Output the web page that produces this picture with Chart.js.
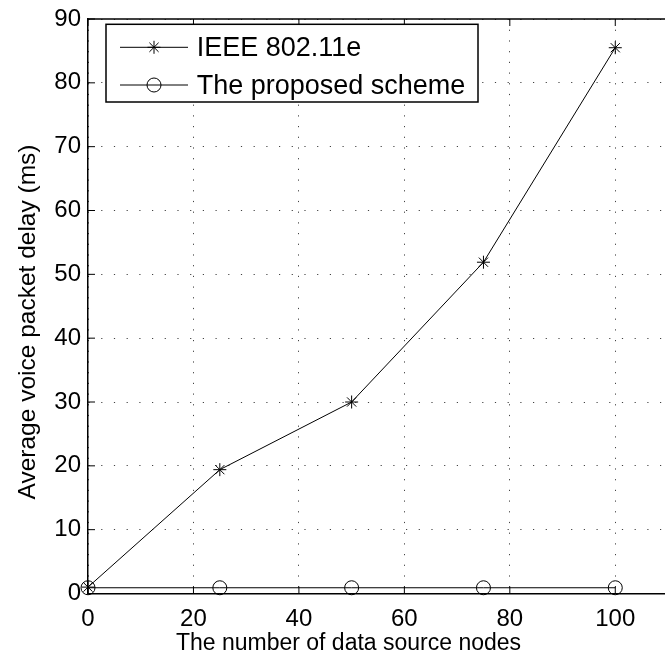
<!DOCTYPE html>
<html>
<head>
<meta charset="utf-8">
<script src="https://cdn.jsdelivr.net/npm/chart.js@4.4.1/dist/chart.umd.min.js"></script>
<style>
  html, body { margin: 0; padding: 0; background: #fff; overflow: hidden; }
  #wrap { width: 676px; height: 665px; }
</style>
</head>
<body>
<div id="wrap"><canvas id="c" width="676" height="665"></canvas></div>
<script>
// Voice packet delay versus number of data source nodes
const nodeCounts = [0, 25, 50, 75, 100];
const ieeeDelay = [1.0, 19.4, 30.0, 51.9, 85.5];
const proposedDelay = [0.9, 0.9, 0.9, 0.9, 0.9];
const xTickValues = [0, 20, 40, 60, 80, 100];
const yTickValues = [0, 10, 20, 30, 40, 50, 60, 70, 80, 90];
const seriesNames = ['IEEE 802.11e', 'The proposed scheme'];
const xTitle = 'The number of data source nodes';
const yTitle = 'Average voice packet delay (ms)';

const FONT = '"Liberation Sans", Arial, Helvetica, sans-serif';
Chart.defaults.font.family = FONT;
Chart.defaults.color = '#000';

const toPoints = (xs, ys) => xs.map((v, i) => ({ x: v, y: ys[i] }));

// inner tick marks, top edge, legend box and axis titles
const framePlugin = {
  id: 'frame',
  afterDraw(chart) {
    const { ctx, chartArea: a, scales: { x, y } } = chart;
    const seg = (x1, y1, x2, y2) => { ctx.beginPath(); ctx.moveTo(x1, y1); ctx.lineTo(x2, y2); ctx.stroke(); };
    ctx.save();
    ctx.strokeStyle = '#000';
    ctx.lineWidth = 1.5;
    seg(a.left, a.top, a.right, a.top);

    ctx.lineWidth = 1;
    const tl = 7;
    x.ticks.forEach(t => {
      const px = x.getPixelForValue(t.value);
      seg(px, a.bottom, px, a.bottom - tl);
      seg(px, a.top, px, a.top + tl);
    });
    y.ticks.forEach(t => {
      const py = y.getPixelForValue(t.value);
      seg(a.left, py, a.left + tl, py);
    });

    // legend
    const bx = 106, by = 24.3, bw = 372, bh = 77.7;
    ctx.fillStyle = '#fff';
    ctx.fillRect(bx, by, bw, bh);
    ctx.lineWidth = 1.5;
    ctx.strokeRect(bx, by, bw, bh);
    const rows = [47.3, 85];
    chart.data.datasets.forEach((ds, i) => {
      const ry = rows[i];
      ctx.lineWidth = 1;
      ctx.strokeStyle = '#000';
      seg(120, ry, 188, ry);
      ctx.fillStyle = 'rgba(0,0,0,0)';
      Chart.helpers.drawPoint(ctx, {
        pointStyle: ds.pointStyle, radius: ds.pointRadius, rotation: 0, borderWidth: 1
      }, 154, ry);
      ctx.fillStyle = '#000';
      ctx.font = '27px ' + FONT;
      ctx.textAlign = 'left';
      ctx.textBaseline = 'alphabetic';
      ctx.fillText(ds.label, 196.7, ry + 9);
    });

    // axis titles
    ctx.fillStyle = '#000';
    ctx.textAlign = 'center';
    ctx.textBaseline = 'alphabetic';
    ctx.font = '23px ' + FONT;
    ctx.fillText(xTitle, 348.5, 650);
    ctx.font = '24.5px ' + FONT;
    ctx.translate(35, 322);
    ctx.rotate(-Math.PI / 2);
    ctx.fillText(yTitle, 0, 0);
    ctx.restore();
  }
};

new Chart(document.getElementById('c'), {
  type: 'line',
  data: {
    datasets: [
      {
        label: seriesNames[0],
        data: toPoints(nodeCounts, ieeeDelay),
        borderColor: '#000', borderWidth: 1,
        pointStyle: 'star', pointRadius: 6.5,
        pointBorderColor: '#000', pointBorderWidth: 1,
        pointBackgroundColor: 'rgba(0,0,0,0)',
        tension: 0, clip: false
      },
      {
        label: seriesNames[1],
        data: toPoints(nodeCounts, proposedDelay),
        borderColor: '#000', borderWidth: 1,
        pointStyle: 'circle', pointRadius: 7,
        pointBorderColor: '#000', pointBorderWidth: 1,
        pointBackgroundColor: 'rgba(0,0,0,0)',
        tension: 0, clip: false
      }
    ]
  },
  options: {
    responsive: false,
    animation: false,
    devicePixelRatio: 1,
    layout: { padding: { left: 0, top: 12.7, right: 6.1, bottom: 0 } },
    plugins: { legend: { display: false }, tooltip: { enabled: false } },
    scales: {
      x: {
        type: 'linear', min: 0, max: 110,
        afterBuildTicks: s => { s.ticks = xTickValues.map(v => ({ value: v })); },
        afterFit: s => { s.height = 71.5; },
        grid: { color: '#444', lineWidth: 1, drawTicks: false },
        border: { display: true, color: '#000', width: 1.5, dash: [1.2, 9.5] },
        ticks: { font: { size: 24, lineHeight: 1 }, color: '#000', padding: 14, maxRotation: 0, autoSkip: false }
      },
      y: {
        type: 'linear', min: 0, max: 90,
        afterBuildTicks: s => { s.ticks = yTickValues.map(v => ({ value: v })); },
        afterFit: s => { s.width = 88; },
        grid: { color: '#444', lineWidth: 1, drawTicks: false },
        border: { display: true, color: '#000', width: 1.5, dash: [1.2, 11.5] },
        ticks: { font: { size: 24, lineHeight: 1 }, color: '#000', padding: 7, autoSkip: false }
      }
    }
  },
  plugins: [framePlugin]
});
</script>
</body>
</html>
